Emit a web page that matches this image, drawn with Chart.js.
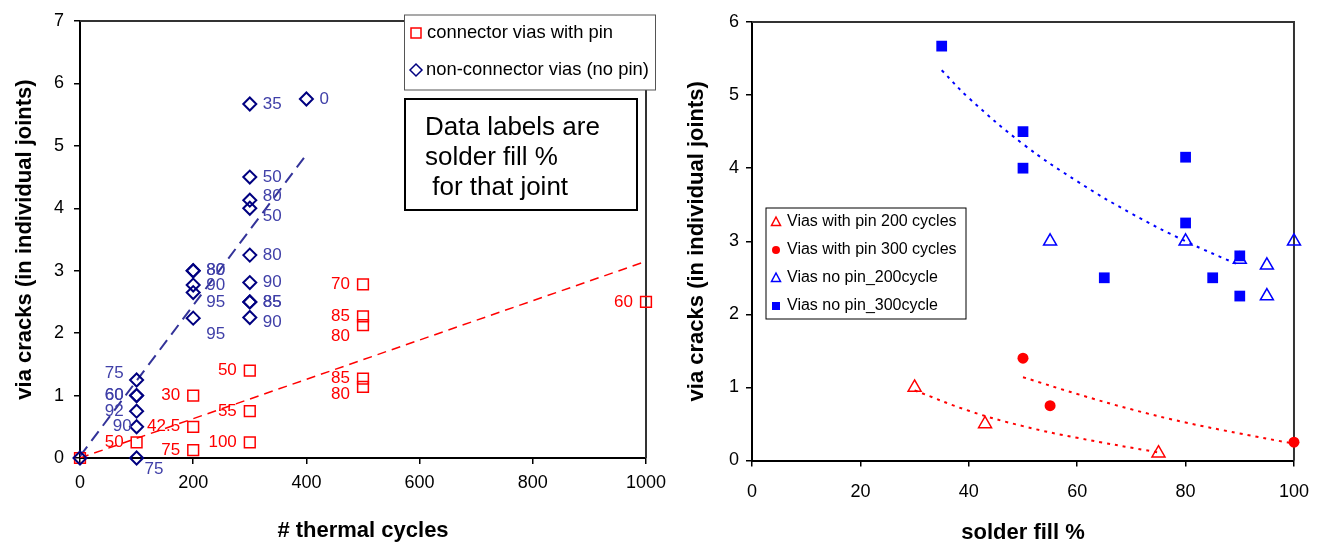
<!DOCTYPE html>
<html>
<head>
<meta charset="utf-8">
<script src="https://cdn.jsdelivr.net/npm/chart.js@4.4.1/dist/chart.umd.min.js"></script>
<style>
    html, body { margin: 0; padding: 0; background: #fff; }
    #wrap { position: relative; width: 1324px; height: 546px; overflow: hidden; }
    #leftChart { position: absolute; left: 0; top: 0; }
    #rightChart { position: absolute; left: 670px; top: 0; }
</style>
</head>
<body>
<div id="wrap">
    <canvas id="leftChart" width="690" height="546"></canvas>
    <canvas id="rightChart" width="654" height="546"></canvas>
</div>
<script>
/* ---- left chart: cracks vs thermal cycles ---- */
var connCycles = [0, 100, 200, 200, 200, 300, 300, 300, 500, 500, 500, 500, 500, 1000];
var connCracks = [0, 0.25, 0.125, 0.5, 1.0, 0.25, 0.75, 1.4, 2.78, 2.27, 2.13, 1.27, 1.14, 2.5];
var connFill   = ['', '50', '75', '42.5', '30', '100', '55', '50', '70', '85', '80', '85', '80', '60'];

var noPinCycles = [0, 100, 100, 100, 100, 100, 100, 200, 200, 200, 200, 200, 300, 300, 300, 300, 300, 300, 300, 300, 300, 400];
var noPinCracks = [0, 0, 0.5, 0.75, 1.0, 1.0, 1.25, 3.0, 3.0, 2.77, 2.65, 2.24, 5.67, 4.5, 4.13, 4.0, 3.25, 2.81, 2.5, 2.5, 2.25, 5.75];
var noPinFill   = ['', '75', '90', '92', '60', '60', '75', '80', '80', '90', '95', '95', '35', '50', '80', '50', '80', '90', '85', '85', '90', '0'];

// trend lines
var connTrendX = [0, 1000];
var connTrendY = [0, 3.15];
var noPinTrendX = [0, 400];
var noPinTrendY = [0.03, 4.86];

var cycleTicks = [0, 200, 400, 600, 800, 1000];
var leftCrackTicks = [0, 1, 2, 3, 4, 5, 6, 7];

/* ---- right chart: cracks vs solder fill ---- */
var pin200Fill = [30, 43, 75];
var pin200Cracks = [1.0, 0.5, 0.1];
var pin300Fill = [50, 55, 100];
var pin300Cracks = [1.4, 0.75, 0.25];
var noPin200Fill = [55, 80, 90, 95, 95, 100];
var noPin200Cracks = [3.0, 3.0, 2.75, 2.67, 2.25, 3.0];
var noPin300Fill = [35, 50, 50, 80, 80, 65, 85, 90, 90];
var noPin300Cracks = [5.67, 4.5, 4.0, 4.15, 3.25, 2.5, 2.5, 2.8, 2.25];

var pin200TrendX = [30, 40, 50, 60, 75];
var pin200TrendY = [0.96, 0.68, 0.47, 0.31, 0.11];
var pin300TrendX = [50, 60, 70, 80, 90, 100];
var pin300TrendY = [1.14, 0.91, 0.70, 0.52, 0.37, 0.23];
var noPin300TrendX = [35, 40, 50, 60, 70, 80, 90];
var noPin300TrendY = [5.34, 4.96, 4.33, 3.82, 3.38, 3.0, 2.67];

var fillTicks = [0, 20, 40, 60, 80, 100];
var rightCrackTicks = [0, 1, 2, 3, 4, 5, 6];


var FONT = '"Liberation Sans", Arial, Helvetica, sans-serif';
Chart.defaults.font.family = FONT;
Chart.defaults.color = '#000';

function pts(xs, ys) {
    return xs.map(function(x, i) { return { x: x, y: ys[i] }; });
}

function marker(ctx, style, x, y, r, color, filled) {
    ctx.save();
    ctx.strokeStyle = color;
    ctx.fillStyle = color;
    ctx.lineWidth = 1.5;
    ctx.beginPath();
    if (style === 'rect') {
        ctx.rect(x - r, y - r, 2 * r, 2 * r);
    } else if (style === 'rectRot') {
        ctx.moveTo(x - r, y); ctx.lineTo(x, y - r); ctx.lineTo(x + r, y); ctx.lineTo(x, y + r); ctx.closePath();
    } else if (style === 'triangle') {
        ctx.moveTo(x, y - r); ctx.lineTo(x + r * 0.9, y + r * 0.7); ctx.lineTo(x - r * 0.9, y + r * 0.7); ctx.closePath();
    } else {
        ctx.arc(x, y, r, 0, Math.PI * 2);
    }
    if (filled) ctx.fill(); else ctx.stroke();
    ctx.restore();
}

// top + right border of the plot area
var framePlugin = {
    id: 'frame',
    beforeDatasetsDraw: function(chart) {
        var a = chart.chartArea, ctx = chart.ctx;
        ctx.save();
        ctx.strokeStyle = '#333';
        ctx.lineWidth = 2;
        ctx.beginPath();
        ctx.moveTo(a.left, a.top);
        ctx.lineTo(a.right, a.top);
        ctx.lineTo(a.right, a.bottom);
        ctx.stroke();
        ctx.restore();
    }
};

// solder fill % labels next to the points
var pointLabelsPlugin = {
    id: 'pointLabels',
    afterDatasetsDraw: function(chart, args, opts) {
        var ctx = chart.ctx;
        (opts.sets || []).forEach(function(s) {
            var meta = chart.getDatasetMeta(s.dataset);
            ctx.save();
            ctx.font = '17px ' + FONT;
            ctx.fillStyle = s.color;
            ctx.textBaseline = 'middle';
            meta.data.forEach(function(el, i) {
                var txt = s.labels[i];
                if (!txt) return;
                var p = s.place(i);
                ctx.textAlign = p.align;
                ctx.fillText(txt, el.x + p.dx, el.y + p.dy);
            });
            ctx.restore();
        });
    }
};

// legend boxes and note drawn at fixed spots
var boxesPlugin = {
    id: 'boxes',
    afterDraw: function(chart, args, opts) {
        var ctx = chart.ctx;
        (opts.boxes || []).forEach(function(b) {
            ctx.save();
            ctx.fillStyle = '#fff';
            ctx.fillRect(b.x, b.y, b.w, b.h);
            ctx.strokeStyle = b.border || '#555';
            ctx.lineWidth = b.lineWidth || 1;
            ctx.strokeRect(b.x, b.y, b.w, b.h);
            ctx.fillStyle = '#000';
            ctx.font = b.font;
            ctx.textBaseline = 'middle';
            ctx.textAlign = 'left';
            b.rows.forEach(function(r) {
                if (r.marker) marker(ctx, r.marker, r.mx, r.y, r.mr, r.color, r.filled);
                ctx.fillStyle = '#000';
                ctx.fillText(r.text, r.tx, r.y);
            });
            ctx.restore();
        });
    }
};

function axisCommon(min, max, step, tickPad, borderW) {
    return {
        type: 'linear', min: min, max: max,
        ticks: { stepSize: step, color: '#000', font: { size: 18 }, padding: tickPad, maxRotation: 0,
                 callback: function(v) { return String(v); } },
        grid: { drawOnChartArea: false, drawTicks: true, tickLength: 6, color: '#000', lineWidth: 1.5 },
        border: { display: true, color: '#000', width: borderW }
    };
}

/* ---------- LEFT ---------- */
var redDy = { 10: 11, 12: 7 };
var blueDy = { 6: -7, 10: 10, 11: 16, 14: -4, 15: 8, 20: 5 };
var blueDx = { 2: 8 };

var lx = axisCommon(0, 1000, 200, 8, 2);
lx.afterBuildTicks = function(s) { s.ticks = cycleTicks.map(function(v) { return { value: v }; }); };
lx.title = { display: true, text: '# thermal cycles', color: '#000', font: { size: 22, weight: 'bold' }, padding: { top: 0, bottom: 2 } };
lx.afterFit = function(s) { s.height = 88; };

var ly = axisCommon(0, 7, 1, 10, 2);
ly.afterBuildTicks = function(s) { s.ticks = leftCrackTicks.map(function(v) { return { value: v }; }); };
ly.title = { display: true, text: 'via cracks (in individual joints)', color: '#000', font: { size: 22, weight: 'bold' }, padding: { top: 12, bottom: 0 } };
ly.afterFit = function(s) { s.width = 80; };

new Chart(document.getElementById('leftChart'), {
    type: 'scatter',
    data: {
        datasets: [{
            label: 'connector vias with pin',
            data: pts(connCycles, connCracks),
            pointStyle: 'rect', pointRadius: 7.6, borderWidth: 1.5, clip: false,
            borderColor: '#ff0000', backgroundColor: 'rgba(0,0,0,0)', order: 1
        }, {
            label: 'non-connector vias (no pin)',
            data: pts(noPinCycles, noPinCracks),
            pointStyle: 'rectRot', pointRadius: 6.5, borderWidth: 2, clip: false,
            borderColor: '#000080', backgroundColor: 'rgba(0,0,0,0)', order: 0
        }, {
            data: pts(connTrendX, connTrendY), showLine: true, pointRadius: 0,
            borderColor: '#ff0000', borderWidth: 1.5, borderDash: [9, 6], order: 3
        }, {
            data: pts(noPinTrendX, noPinTrendY), showLine: true, pointRadius: 0,
            borderColor: '#333399', borderWidth: 2, borderDash: [12, 7], order: 3
        }]
    },
    options: {
        responsive: false, animation: false,
        layout: { padding: { top: 21, right: 44, left: 0, bottom: 0 } },
        scales: { x: lx, y: ly },
        plugins: {
            legend: { display: false },
            tooltip: { enabled: false },
            pointLabels: {
                sets: [{
                    dataset: 0, labels: connFill, color: '#ff0000',
                    place: function(i) { return { align: 'right', dx: -13, dy: redDy[i] || 0 }; }
                }, {
                    dataset: 1, labels: noPinFill, color: '#4040a8',
                    place: function(i) {
                        if (noPinCycles[i] === 100) {
                            if (noPinCracks[i] === 0) return { align: 'left', dx: 8, dy: 11 };
                            return { align: 'right', dx: -13 + (blueDx[i] || 0), dy: blueDy[i] || 0 };
                        }
                        return { align: 'left', dx: 13, dy: blueDy[i] || 0 };
                    }
                }]
            },
            boxes: {
                boxes: [{
                    x: 404.5, y: 15, w: 251, h: 75, font: '18.4px ' + FONT, border: '#555',
                    rows: [
                        { marker: 'rect', mx: 416, mr: 5, color: '#ff0000', filled: false, tx: 427, y: 33, text: 'connector vias with pin' },
                        { marker: 'rectRot', mx: 416, mr: 6, color: '#000080', filled: false, tx: 426, y: 70, text: 'non-connector vias (no pin)' }
                    ]
                }, {
                    x: 405, y: 99, w: 232, h: 111, font: '26px ' + FONT, border: '#000', lineWidth: 2,
                    rows: [
                        { tx: 425, y: 128, text: 'Data labels are' },
                        { tx: 425, y: 158, text: 'solder fill %' },
                        { tx: 425, y: 188, text: ' for that joint' }
                    ]
                }]
            }
        }
    },
    plugins: [framePlugin, pointLabelsPlugin, boxesPlugin]
});

/* ---------- RIGHT ---------- */
var rx = axisCommon(0, 100, 20, 15, 2);
rx.afterBuildTicks = function(s) { s.ticks = fillTicks.map(function(v) { return { value: v }; }); };
rx.title = { display: true, text: 'solder fill %', color: '#000', font: { size: 22, weight: 'bold' }, padding: { top: 0, bottom: 0 } };
rx.afterFit = function(s) { s.height = 85.5; };

var ry = axisCommon(0, 6, 1, 7, 2);
ry.afterBuildTicks = function(s) { s.ticks = rightCrackTicks.map(function(v) { return { value: v }; }); };
ry.title = { display: true, text: 'via cracks (in individual joints)', color: '#000', font: { size: 22, weight: 'bold' }, padding: { top: 14, bottom: 0 } };
ry.afterFit = function(s) { s.width = 82; };

new Chart(document.getElementById('rightChart'), {
    type: 'scatter',
    data: {
        datasets: [{
            label: 'Vias with pin 200 cycles',
            data: pts(pin200Fill, pin200Cracks),
            pointStyle: 'triangle', pointRadius: 7.5, borderWidth: 1.5, clip: false,
            borderColor: '#ff0000', backgroundColor: 'rgba(0,0,0,0)', order: 0
        }, {
            label: 'Vias with pin 300 cycles',
            data: pts(pin300Fill, pin300Cracks),
            pointStyle: 'circle', pointRadius: 5.5, borderWidth: 0, clip: false,
            borderColor: '#ff0000', backgroundColor: '#ff0000', order: 0
        }, {
            label: 'Vias no pin_200cycle',
            data: pts(noPin200Fill, noPin200Cracks),
            pointStyle: 'triangle', pointRadius: 7.5, borderWidth: 1.5, clip: false,
            borderColor: '#0000ff', backgroundColor: 'rgba(0,0,0,0)', order: 0
        }, {
            label: 'Vias no pin_300cycle',
            data: pts(noPin300Fill, noPin300Cracks),
            pointStyle: 'rect', pointRadius: 7.6, borderWidth: 0, clip: false,
            borderColor: '#0000ff', backgroundColor: '#0000ff', order: 0
        }, {
            data: pts(pin200TrendX, pin200TrendY), showLine: true, pointRadius: 0, tension: 0.4,
            borderColor: '#ff0000', borderWidth: 2, borderDash: [3, 5], order: 2
        }, {
            data: pts(pin300TrendX, pin300TrendY), showLine: true, pointRadius: 0, tension: 0.4,
            borderColor: '#ff0000', borderWidth: 2, borderDash: [3, 5], order: 2
        }, {
            data: pts(noPin300TrendX, noPin300TrendY), showLine: true, pointRadius: 0, tension: 0.4,
            borderColor: '#0000ff', borderWidth: 2, borderDash: [3, 5], order: 2
        }]
    },
    options: {
        responsive: false, animation: false,
        layout: { padding: { top: 22, right: 24, left: 0, bottom: 0 } },
        scales: { x: rx, y: ry },
        plugins: {
            legend: { display: false },
            tooltip: { enabled: false },
            boxes: {
                boxes: [{
                    x: 96, y: 208, w: 200, h: 111, font: '16px ' + FONT, border: '#000',
                    rows: [
                        { marker: 'triangle', mx: 106, mr: 5, color: '#ff0000', filled: false, tx: 117, y: 222, text: 'Vias with pin 200 cycles' },
                        { marker: 'circle', mx: 106, mr: 4, color: '#ff0000', filled: true, tx: 117, y: 250, text: 'Vias with pin 300 cycles' },
                        { marker: 'triangle', mx: 106, mr: 5, color: '#0000ff', filled: false, tx: 117, y: 278, text: 'Vias no pin_200cycle' },
                        { marker: 'rect', mx: 106, mr: 4, color: '#0000ff', filled: true, tx: 117, y: 306, text: 'Vias no pin_300cycle' }
                    ]
                }]
            }
        }
    },
    plugins: [framePlugin, boxesPlugin]
});
</script>
</body>
</html>
